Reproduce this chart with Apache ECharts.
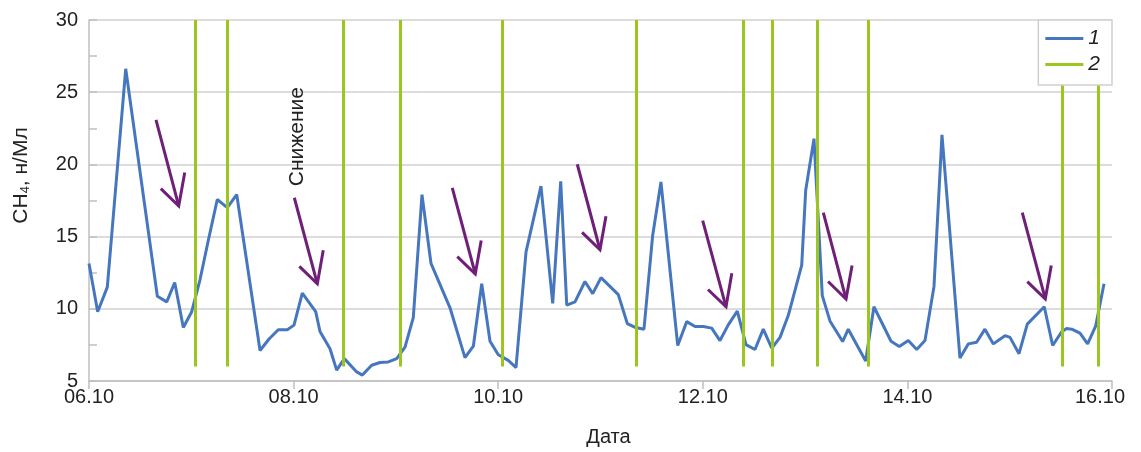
<!DOCTYPE html>
<html>
<head>
<meta charset="utf-8">
<script src="https://cdn.jsdelivr.net/npm/echarts@6/dist/echarts.min.js"></script>
<style>
html,body{margin:0;padding:0;background:#fff;}
#chart{width:1141px;height:452px;}
</style>
</head>
<body>
<div id="chart"></div>
<script>
// X tick labels (every 2 days, axis in days since 06.10)
const dateTicks = ['06.10', '08.10', '10.10', '12.10', '14.10', '16.10'];

// Series 1: CH4 concentration (day offset, value)
const ch4Days = [
  0, 0.085, 0.179, 0.359, 0.668, 0.760, 0.838, 0.922, 1.004, 1.085,
  1.166, 1.254, 1.352, 1.444, 1.672, 1.760, 1.850, 1.938, 2.004, 2.085,
  2.216, 2.258, 2.356, 2.421, 2.496, 2.617, 2.672, 2.763, 2.845, 2.926,
  3.008, 3.089, 3.170, 3.255, 3.343, 3.529, 3.675, 3.757, 3.839, 3.920,
  4.001, 4.099, 4.174, 4.272, 4.418, 4.533, 4.611, 4.670, 4.751, 4.848,
  4.924, 5.005, 5.174, 5.262, 5.344, 5.425, 5.510, 5.591, 5.755, 5.843,
  5.924, 6.005, 6.087, 6.168, 6.249, 6.337, 6.422, 6.510, 6.591, 6.674,
  6.755, 6.836, 6.967, 7.006, 7.087, 7.168, 7.243, 7.367, 7.422, 7.592,
  7.673, 7.840, 7.921, 8.009, 8.091, 8.172, 8.260, 8.338, 8.514, 8.595,
  8.677, 8.758, 8.840, 8.954, 9.003, 9.091, 9.172, 9.338, 9.420, 9.508,
  9.557, 9.606, 9.687, 9.762, 9.841, 9.922
];
const ch4Values = [
  13.14, 9.80, 11.50, 26.62, 10.87, 10.48, 11.82, 8.70, 9.80, 12.01,
  14.73, 17.57, 17.01, 17.91, 7.11, 7.91, 8.55, 8.55, 8.87, 11.09,
  9.80, 8.43, 7.23, 5.75, 6.55, 5.63, 5.41, 6.09, 6.28, 6.32,
  6.55, 7.34, 9.39, 17.91, 13.14, 10.07, 6.62, 7.41, 11.73, 7.75,
  6.82, 6.43, 5.93, 13.94, 18.49, 10.37, 18.83, 10.25, 10.48, 11.89,
  11.05, 12.16, 10.98, 8.98, 8.70, 8.59, 15.08, 18.78, 7.46, 9.11,
  8.77, 8.77, 8.66, 7.80, 8.89, 9.84, 7.52, 7.18, 8.59, 7.27,
  8.02, 9.55, 13.03, 18.21, 21.78, 10.91, 9.16, 7.73, 8.59, 6.38,
  10.14, 7.75, 7.39, 7.80, 7.18, 7.80, 11.55, 22.05, 6.59, 7.57,
  7.68, 8.59, 7.57, 8.14, 8.02, 6.89, 8.94, 10.14, 7.46, 8.41,
  8.64, 8.59, 8.32, 7.57, 8.82, 11.73
];

// Series 2: vertical event markers (day offset), spanning value range below
const eventDays = [1.043, 1.356, 2.486, 3.043, 4.037, 5.347, 6.396, 6.679, 7.116, 7.622, 9.518, 9.870];
const eventRange = [6, 30];

// Annotation arrows: tail and tip (day offset, value)
const arrowTails = [[0.655, 23.08], [2.007, 17.69], [3.551, 18.37], [4.773, 20.01], [5.999, 16.10], [7.178, 16.66], [9.123, 16.66]];
const arrowTips  = [[0.877, 17.12], [2.232, 11.73], [3.776, 12.41], [4.995, 14.09], [6.227, 10.14], [7.400, 10.68], [9.348, 10.68]];

// Annotation text
const noteText = 'Снижение';
const noteAt = [2.033, 21.92];

const FONT = '"Liberation Sans", Arial, sans-serif';
const BLUE = '#4677be';
const GREEN = '#9bc51f';
const PURPLE = '#6f1f78';
const TEXT = '#222';

const chart = echarts.init(document.getElementById('chart'), null, {renderer: 'canvas'});

const ch4Data = ch4Days.map((d, i) => [d, ch4Values[i]]);
const eventLines = eventDays.map(d => [{coord: [d, eventRange[0]]}, {coord: [d, eventRange[1]]}]);
const arrowData = arrowTails.map((t, i) => [t[0], t[1], arrowTips[i][0], arrowTips[i][1]]);

const option = {
  animation: false,
  backgroundColor: '#fff',
  textStyle: {fontFamily: FONT},
  grid: {left: 89, right: 29, top: 20, bottom: 66, containLabel: false},
  legend: {
    data: [{name: '1'}, {name: '2'}],
    orient: 'vertical',
    right: 29,
    top: 20,
    padding: [8, 12, 10, 7],
    itemGap: 5,
    itemWidth: 38,
    itemHeight: 3,
    icon: 'rect',
    backgroundColor: '#fff',
    borderColor: '#cfcfcf',
    borderWidth: 1.5,
    borderRadius: 0,
    z: 10,
    textStyle: {fontSize: 21, fontStyle: 'italic', color: TEXT, fontFamily: FONT}
  },
  xAxis: {
    type: 'value',
    min: 0,
    max: 10,
    interval: 2,
    name: 'Дата',
    nameLocation: 'middle',
    nameGap: 46,
    nameTextStyle: {fontSize: 20, color: TEXT, fontFamily: FONT, padding: [0, 0, 0, 16]},
    axisLine: {show: true, lineStyle: {color: '#bfbfbf', width: 1.5}},
    axisTick: {show: true, length: 8, lineStyle: {color: '#bfbfbf', width: 1.5}},
    axisLabel: {
      fontSize: 20, color: TEXT, margin: 6, fontFamily: FONT,
      formatter: v => {
        const i = Math.round(v / 2);
        return i === dateTicks.length - 1 ? '{last|' + dateTicks[i] + '}' : dateTicks[i];
      },
      rich: {last: {fontSize: 20, color: TEXT, fontFamily: FONT, padding: [0, 24, 0, 0]}}
    },
    splitLine: {show: false}
  },
  yAxis: {
    type: 'value',
    min: 5,
    max: 30,
    interval: 5,
    name: '{a|CH}{b|4}{a|, н/Мл}',
    nameLocation: 'middle',
    nameGap: 57,
    nameTextStyle: {
      padding: [0, 0, 0, 50],
      rich: {
        a: {fontSize: 21, color: TEXT, fontFamily: FONT, lineHeight: 22},
        b: {fontSize: 13, color: TEXT, fontFamily: FONT, verticalAlign: 'bottom', lineHeight: 22}
      }
    },
    axisLine: {show: true, lineStyle: {color: '#bfbfbf', width: 1.5}},
    axisTick: {show: true, inside: true, length: 8, lineStyle: {color: '#bfbfbf', width: 1.5}},
    minorTick: {show: true, splitNumber: 2, length: 8, lineStyle: {color: '#bfbfbf', width: 1.5}},
    axisLabel: {fontSize: 20, color: TEXT, margin: 11, fontFamily: FONT},
    splitLine: {show: true, lineStyle: {color: '#d0d0d0', width: 1.5}}
  },
  series: [
    {
      name: '1',
      type: 'line',
      data: ch4Data,
      symbol: 'none',
      showSymbol: false,
      color: BLUE,
      lineStyle: {color: BLUE, width: 3},
      z: 2
    },
    {
      name: '2',
      type: 'line',
      data: [],
      symbol: 'none',
      color: GREEN,
      lineStyle: {color: GREEN, width: 3},
      z: 3,
      markLine: {
        silent: true,
        symbol: ['none', 'none'],
        label: {show: false},
        lineStyle: {color: GREEN, width: 3, type: 'solid'},
        emphasis: {disabled: true},
        data: eventLines
      }
    },
    {
      name: 'arrows',
      type: 'custom',
      data: arrowData,
      silent: true,
      z: 4,
      encode: {x: [0, 2], y: [1, 3]},
      renderItem: function (params, api) {
        const a = api.coord([api.value(0), api.value(1)]);
        const b = api.coord([api.value(2), api.value(3)]);
        const ang = Math.atan2(a[1] - b[1], a[0] - b[0]);
        const arm = (da, len) => [b[0] + len * Math.cos(ang + da), b[1] + len * Math.sin(ang + da)];
        const l = arm(-31 * Math.PI / 180, 25);
        const r = arm(25 * Math.PI / 180, 34);
        const st = {stroke: PURPLE, lineWidth: 3, fill: null, lineJoin: 'miter'};
        return {
          type: 'group',
          children: [
            {type: 'polyline', shape: {points: [a, b]}, style: st},
            {type: 'polyline', shape: {points: [l, b, r]}, style: st}
          ]
        };
      }
    },
    {
      name: 'note',
      type: 'custom',
      data: [noteAt],
      silent: true,
      z: 4,
      renderItem: function (params, api) {
        const p = api.coord([api.value(0), api.value(1)]);
        return {
          type: 'text',
          x: p[0],
          y: p[1],
          rotation: Math.PI / 2,
          style: {text: noteText, fontSize: 21, fill: TEXT, align: 'center', verticalAlign: 'middle', fontFamily: FONT}
        };
      }
    }
  ]
};

chart.setOption(option);
</script>
</body>
</html>
